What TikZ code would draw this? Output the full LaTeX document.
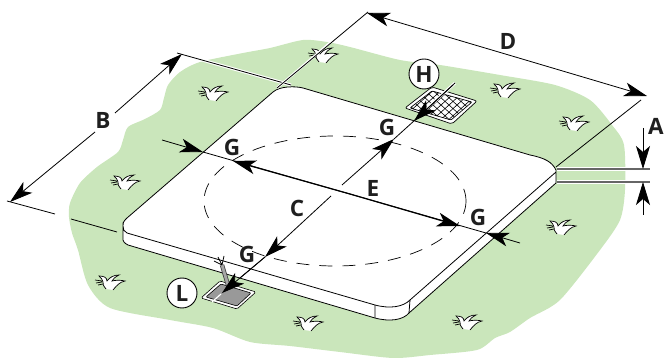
\documentclass[tikz,border=0pt]{standalone}
\usepackage{fontspec}
\setmainfont{Open Sans}
\usetikzlibrary{arrows.meta}
\definecolor{grass}{RGB}{202,230,187}
\tikzset{
  ink/.style={line width=0.8pt,black},
  bighead/.tip={Stealth[length=23pt,width=14pt,inset=6pt]},
  dim/.style={line width=0.8pt,black,-bighead},
  dimb/.style={line width=0.8pt,black,bighead-bighead},
  heavy/.style={line width=1.2pt,black,-bighead},
  halo/.style={line width=3pt,white},
  lab/.style={font=\bfseries\fontsize{22.5}{22.5}\selectfont,inner sep=0pt,text=black!88},
  mark circle/.style={circle,draw=black,line width=0.9pt,fill=white,minimum size=30pt,inner sep=0pt,font=\bfseries\fontsize{22.5}{22.5}\selectfont,text=black!88},
  tuft/.pic={
    \fill[white] (-4,7) .. controls (-7,3) .. (-7,0) .. controls (-8,-3) .. (-11,-6) .. controls (-7,-6) and (-3,-5) .. (-3,-1) .. controls (0,-5) and (4,-7) .. (9,-7) .. controls (5,-5) and (3,-3) .. (2,-1) .. controls (6,-2) and (11,-2) .. (15,-1) .. controls (10,0) and (7,3) .. (3,8) -- cycle;
    \draw[line width=0.7pt] (-4,7) .. controls (-7,3) .. (-7,0) .. controls (-8,-3) .. (-11,-6) .. controls (-7,-6) and (-3,-5) .. (-3,-1) .. controls (0,-5) and (4,-7) .. (9,-7) .. controls (5,-5) and (3,-3) .. (2,-1) .. controls (6,-2) and (11,-2) .. (15,-1) .. controls (10,0) and (7,3) .. (3,8);
    \draw[line width=0.7pt] (-15,-2) -- (-8,-1) (-14,1) -- (-8,0) (-12,3) -- (-7,2);
  }
}
\begin{document}
\begin{tikzpicture}[x=1pt,y=-1pt]
\useasboundingbox (0,0) rectangle (665,358);
% grass
\fill[grass] plot[smooth cycle,tension=0.45] coordinates {
 (160,110) (164,98) (168,85) (180,72) (200,62) (243,53) (270,48) (303,40) (327,42) (350,47)
 (400,60) (440,65) (500,75) (555,85) (590,100) (612,125) (624,145) (625,190) (620,220)
 (600,250) (560,300) (530,318) (510,332) (495,338) (477,350) (430,355) (393,358)
 (340,352) (290,346) (250,342) (213,328) (170,320) (110,308) (88,285) (78,250) (72,233) (69,217) (70,203) (80,183) (97,167) (118,152) (123,140) (128,127) (145,119)};
% tufts
\foreach \p in {(213,93),(323,55),(505,90),(574,123),(125,182),(561,227),(110,282),(308,323),(467,322)}
  \pic[ink] at \p {tuft};
% slab
\fill[white] (127,218) -- (273,92) .. controls (280,86) and (295,86) .. (303,88) -- (530,155)
  .. controls (545,158) and (552,162) .. (556,170) -- (556,183) -- (409,313)
  .. controls (403,320) and (390,322) .. (375,318) -- (128,245) .. controls (124,243) and (123,241) .. (123,240) -- (123,226) .. controls (123,222) and (124,221) .. (127,218) -- cycle;
\draw[ink] (123,226) .. controls (123,222) and (124,221) .. (127,218) -- (273,92) .. controls (280,86) and (295,86) .. (303,88) -- (530,155)
  .. controls (545,158) and (552,162) .. (556,170) -- (556,172) -- (410,300)
  .. controls (403,307) and (390,309) .. (375,305) -- (127,233) .. controls (124,232) and (123,229) .. (123,226) -- (123,240) .. controls (123,241) and (124,243) .. (128,245) -- (375,318)
  .. controls (390,322) and (403,320) .. (409,313) -- (556,183) -- (556,172);
\draw[ink] (375,305) -- (375,318) (410,300) -- (409,313);
% dashed ellipse
\draw[line width=0.7pt,dash pattern=on 13pt off 10pt] (335,201) ellipse [x radius=131,y radius=65];
% drain H
\fill[white,draw=black,line width=0.7pt,rounded corners=2pt] (405,108) -- (432,87) -- (477,101) -- (452,124) -- cycle;
\begin{scope}
 \clip[rounded corners=1pt] (410,108) -- (432,91) -- (472,102) -- (451,120) -- cycle;
 \foreach \i in {-8,...,8} {
   \draw[line width=0.6pt] ({441+8*\i-30},{105-27}) -- ({441+8*\i+30},{105+27});
   \draw[line width=0.6pt] ({441+8*\i-30},{105+27}) -- ({441+8*\i+30},{105-27});
 }
\end{scope}
\draw[line width=0.7pt,rounded corners=1pt] (410,108) -- (432,91) -- (472,102) -- (451,120) -- cycle;
% drain L
\fill[white,draw=black,line width=0.6pt,rounded corners=1.5pt] (201,298) -- (220,281) -- (256,292) -- (237,309) -- cycle;
\fill[black!40,draw=black,line width=0.6pt,rounded corners=1pt] (206,297) -- (221,284) -- (251,293) -- (237,306) -- cycle;
% cable
\draw[line width=4.4pt,black!75] (228,285) -- (222,265);
\draw[line width=2.8pt,black!35] (228,285) -- (222,265);
\draw[line width=0.8pt] (222,265) -- (214,261) (222,265) -- (218,257) (222,265) -- (224,256);
% extension lines
\draw[halo] (177,53) -- (291,85);
\draw[ink] (177,53) -- (291,85);
\draw[halo,line width=2.4pt] (277,88) -- (345,30);
\draw[ink] (277,88) -- (368,12);
\draw[ink] (556,167) -- (641,100);
\draw[ink] (7,201) -- (55,214) (71,219) -- (117,232);
\draw[white,line width=3.5pt] (557,169) -- (650,169) (557,182) -- (650,182);
\draw[black!60,line width=1.2pt] (557,169) -- (650,169) (557,182) -- (650,182);
% dimension arrows
\coordinate (Bmid1) at (115,113);
\coordinate (Bmid2) at (95,132);
\draw[ink,{bighead}-] (182,54) -- (Bmid1);
\draw[ink,-{bighead}] (Bmid2) -- (10,202);
\draw[dimb] (367,13) -- (647,96);
\draw[dim] (643,128) -- (643,169);
\draw[dim] (643,215) -- (643,182);
\draw[dim] (162,140) -- (203,152);
\draw[dim] (520,243) -- (486,233);
\draw[ink] (203,152) -- (486,233);
\draw[heavy] (350,194) -- (233,161);
\draw[heavy] (350,194) -- (460,226);
% H and L arrows
\draw[halo] (455,83) -- (425,110);
\draw[ink] (455,83) -- (415,120);
\draw[dim] (453,85) -- (414,121);
\draw[dim] (342,185) -- (394,139);
\draw[ink] (394,139) -- (415,120);
\draw[dim] (331,196) -- (265,257);
\draw[ink] (265,257) -- (240,278);
\draw[dim] (265,257) -- (222,293);
\draw[white,line width=1.2pt] (221,294) -- (212,302);
% labels
\node[lab] (labD) at (508,41) {D};
\node[lab] (labB) at (103,120) {B};
\node[lab] (labA) at (656,126) {A};
\node[lab] (labC) at (297,208) {C};
\node[lab] (labE) at (373,188) {E};
\node[lab] (labG1) at (232,147) {G};
\node[lab] (labG2) at (387,127) {G};
\node[lab] (labG3) at (478,217) {G};
\node[lab] (labG4) at (247,254) {G};
\node[mark circle] (labH) at (424,74) {H};
\node[mark circle] (labL) at (182,293) {L};
\end{tikzpicture}
\end{document}
